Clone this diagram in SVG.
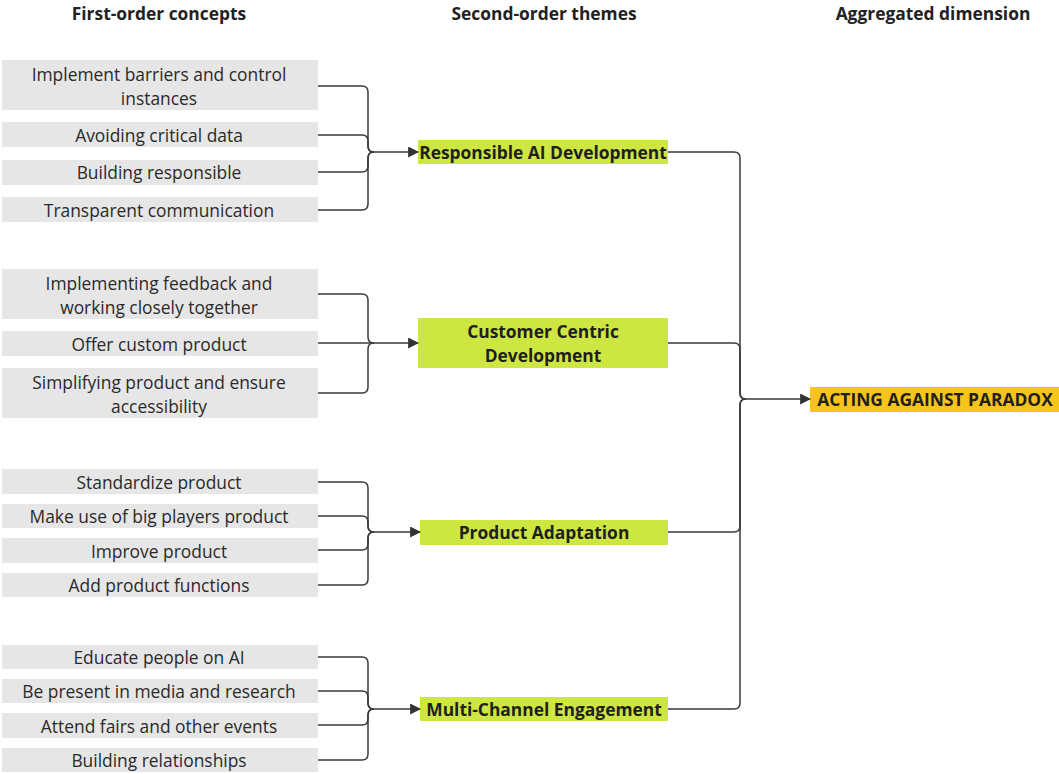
<svg xmlns="http://www.w3.org/2000/svg" width="1059" height="774" viewBox="0 0 1059 774">
  <style>
    .hdr { font-family: "Open Sans", "Liberation Sans", sans-serif; font-weight: 700; font-size: 17.4px; fill: #222; text-anchor: middle; }
    .concept rect { fill: #e6e6e6; }
    .concept text { font-family: "Open Sans", "Liberation Sans", sans-serif; font-size: 17.4px; fill: #2a2a2a; text-anchor: middle; }
    .theme rect { fill: #cde641; }
    .theme text { font-family: "Open Sans", "Liberation Sans", sans-serif; font-weight: 700; font-size: 17.4px; fill: #1f1f1f; text-anchor: middle; }
    .dim rect { fill: #f7c41b; }
    .dim text { font-family: "Open Sans", "Liberation Sans", sans-serif; font-weight: 700; font-size: 17.4px; fill: #1f1f1f; text-anchor: middle; }
    .conn path { fill: none; stroke: #3a3a3a; stroke-width: 1.5; }
    .conn path.arr { marker-end: url(#head); }
  </style>
  <defs>
    <marker id="head" viewBox="0 0 10 10" refX="9" refY="5" markerWidth="11" markerHeight="11" markerUnits="userSpaceOnUse" orient="auto">
      <path d="M0,0 L10,5 L0,10 Z" fill="#333"/>
    </marker>
  </defs>

  <!-- column headings -->
  <text class="hdr" x="159" y="20">First-order concepts</text>
  <text class="hdr" x="544" y="20">Second-order themes</text>
  <text class="hdr" x="933" y="20">Aggregated dimension</text>

  <!-- first-order concepts -->
  <g id="c1" class="concept"><rect x="2" y="60" width="316" height="50"/><text x="159" y="81">Implement barriers and control</text><text x="159" y="105">instances</text></g>
  <g id="c2" class="concept"><rect x="2" y="122" width="316" height="25"/><text x="159" y="141.5">Avoiding critical data</text></g>
  <g id="c3" class="concept"><rect x="2" y="160" width="316" height="25"/><text x="159" y="179">Building responsible</text></g>
  <g id="c4" class="concept"><rect x="2" y="197" width="316" height="25"/><text x="159" y="216.5">Transparent communication</text></g>

  <g id="c5" class="concept"><rect x="2" y="269" width="316" height="50"/><text x="159" y="290">Implementing feedback and</text><text x="159" y="314">working closely together</text></g>
  <g id="c6" class="concept"><rect x="2" y="331" width="316" height="25"/><text x="159" y="350.5">Offer custom product</text></g>
  <g id="c7" class="concept"><rect x="2" y="368" width="316" height="50"/><text x="159" y="389">Simplifying product and ensure</text><text x="159" y="413">accessibility</text></g>

  <g id="c8" class="concept"><rect x="2" y="469" width="316" height="25"/><text x="159" y="488.5">Standardize product</text></g>
  <g id="c9" class="concept"><rect x="2" y="504" width="316" height="24"/><text x="159" y="523">Make use of big players product</text></g>
  <g id="c10" class="concept"><rect x="2" y="538" width="316" height="25"/><text x="159" y="557.5">Improve product</text></g>
  <g id="c11" class="concept"><rect x="2" y="573" width="316" height="24"/><text x="159" y="592">Add product functions</text></g>

  <g id="c12" class="concept"><rect x="2" y="645" width="316" height="24"/><text x="159" y="664">Educate people on AI</text></g>
  <g id="c13" class="concept"><rect x="2" y="679" width="316" height="24"/><text x="159" y="698">Be present in media and research</text></g>
  <g id="c14" class="concept"><rect x="2" y="713" width="316" height="25"/><text x="159" y="732.5">Attend fairs and other events</text></g>
  <g id="c15" class="concept"><rect x="2" y="748" width="316" height="24"/><text x="159" y="767">Building relationships</text></g>

  <!-- second-order themes -->
  <g id="t1" class="theme"><rect x="418" y="140" width="250" height="24"/><text x="543" y="159">Responsible AI Development</text></g>
  <g id="t2" class="theme"><rect x="418" y="318" width="250" height="50"/><text x="543" y="338">Customer Centric</text><text x="543" y="362">Development</text></g>
  <g id="t3" class="theme"><rect x="420" y="520" width="248" height="25"/><text x="544" y="539">Product Adaptation</text></g>
  <g id="t4" class="theme"><rect x="420" y="697" width="248" height="24"/><text x="544" y="716">Multi-Channel Engagement</text></g>

  <!-- aggregated dimension -->
  <g id="d1" class="dim"><rect x="810" y="387" width="252" height="25"/><text x="935" y="406">ACTING AGAINST PARADOX</text></g>

  <!-- connectors -->
  <g id="connectors" class="conn">
    <!-- group 1 -> Responsible AI Development -->
    <path d="M318,86 H362 Q368,86 368,92 V146 Q368,152 374,152"/>
    <path d="M318,135 H362 Q368,135 368,141 V146 Q368,152 374,152"/>
    <path d="M318,172 H362 Q368,172 368,166 V158 Q368,152 374,152"/>
    <path d="M318,210 H362 Q368,210 368,204 V158 Q368,152 374,152"/>
    <path class="arr" d="M374,152 H418"/>

    <!-- group 2 -> Customer Centric Development -->
    <path d="M318,294 H362 Q368,294 368,300 V337 Q368,343 374,343"/>
    <path d="M318,393 H362 Q368,393 368,387 V349 Q368,343 374,343"/>
    <path class="arr" d="M318,343 H418"/>

    <!-- group 3 -> Product Adaptation -->
    <path d="M318,482 H362 Q368,482 368,488 V526 Q368,532 374,532"/>
    <path d="M318,516 H362 Q368,516 368,522 V526 Q368,532 374,532"/>
    <path d="M318,550 H362 Q368,550 368,544 V538 Q368,532 374,532"/>
    <path d="M318,585 H362 Q368,585 368,579 V538 Q368,532 374,532"/>
    <path class="arr" d="M374,532 H420"/>

    <!-- group 4 -> Multi-Channel Engagement -->
    <path d="M318,657 H362 Q368,657 368,663 V703 Q368,709 374,709"/>
    <path d="M318,691 H362 Q368,691 368,697 V703 Q368,709 374,709"/>
    <path d="M318,725 H362 Q368,725 368,719 V715 Q368,709 374,709"/>
    <path d="M318,760 H362 Q368,760 368,754 V715 Q368,709 374,709"/>
    <path class="arr" d="M374,709 H420"/>

    <!-- themes -> ACTING AGAINST PARADOX -->
    <path d="M668,152 H734 Q740,152 740,158 V393 Q740,399 746,399"/>
    <path d="M668,343 H734 Q740,343 740,349 V393 Q740,399 746,399"/>
    <path d="M668,532 H734 Q740,532 740,526 V405 Q740,399 746,399"/>
    <path d="M668,709 H734 Q740,709 740,703 V405 Q740,399 746,399"/>
    <path class="arr" d="M746,399 H810"/>
  </g>
</svg>
